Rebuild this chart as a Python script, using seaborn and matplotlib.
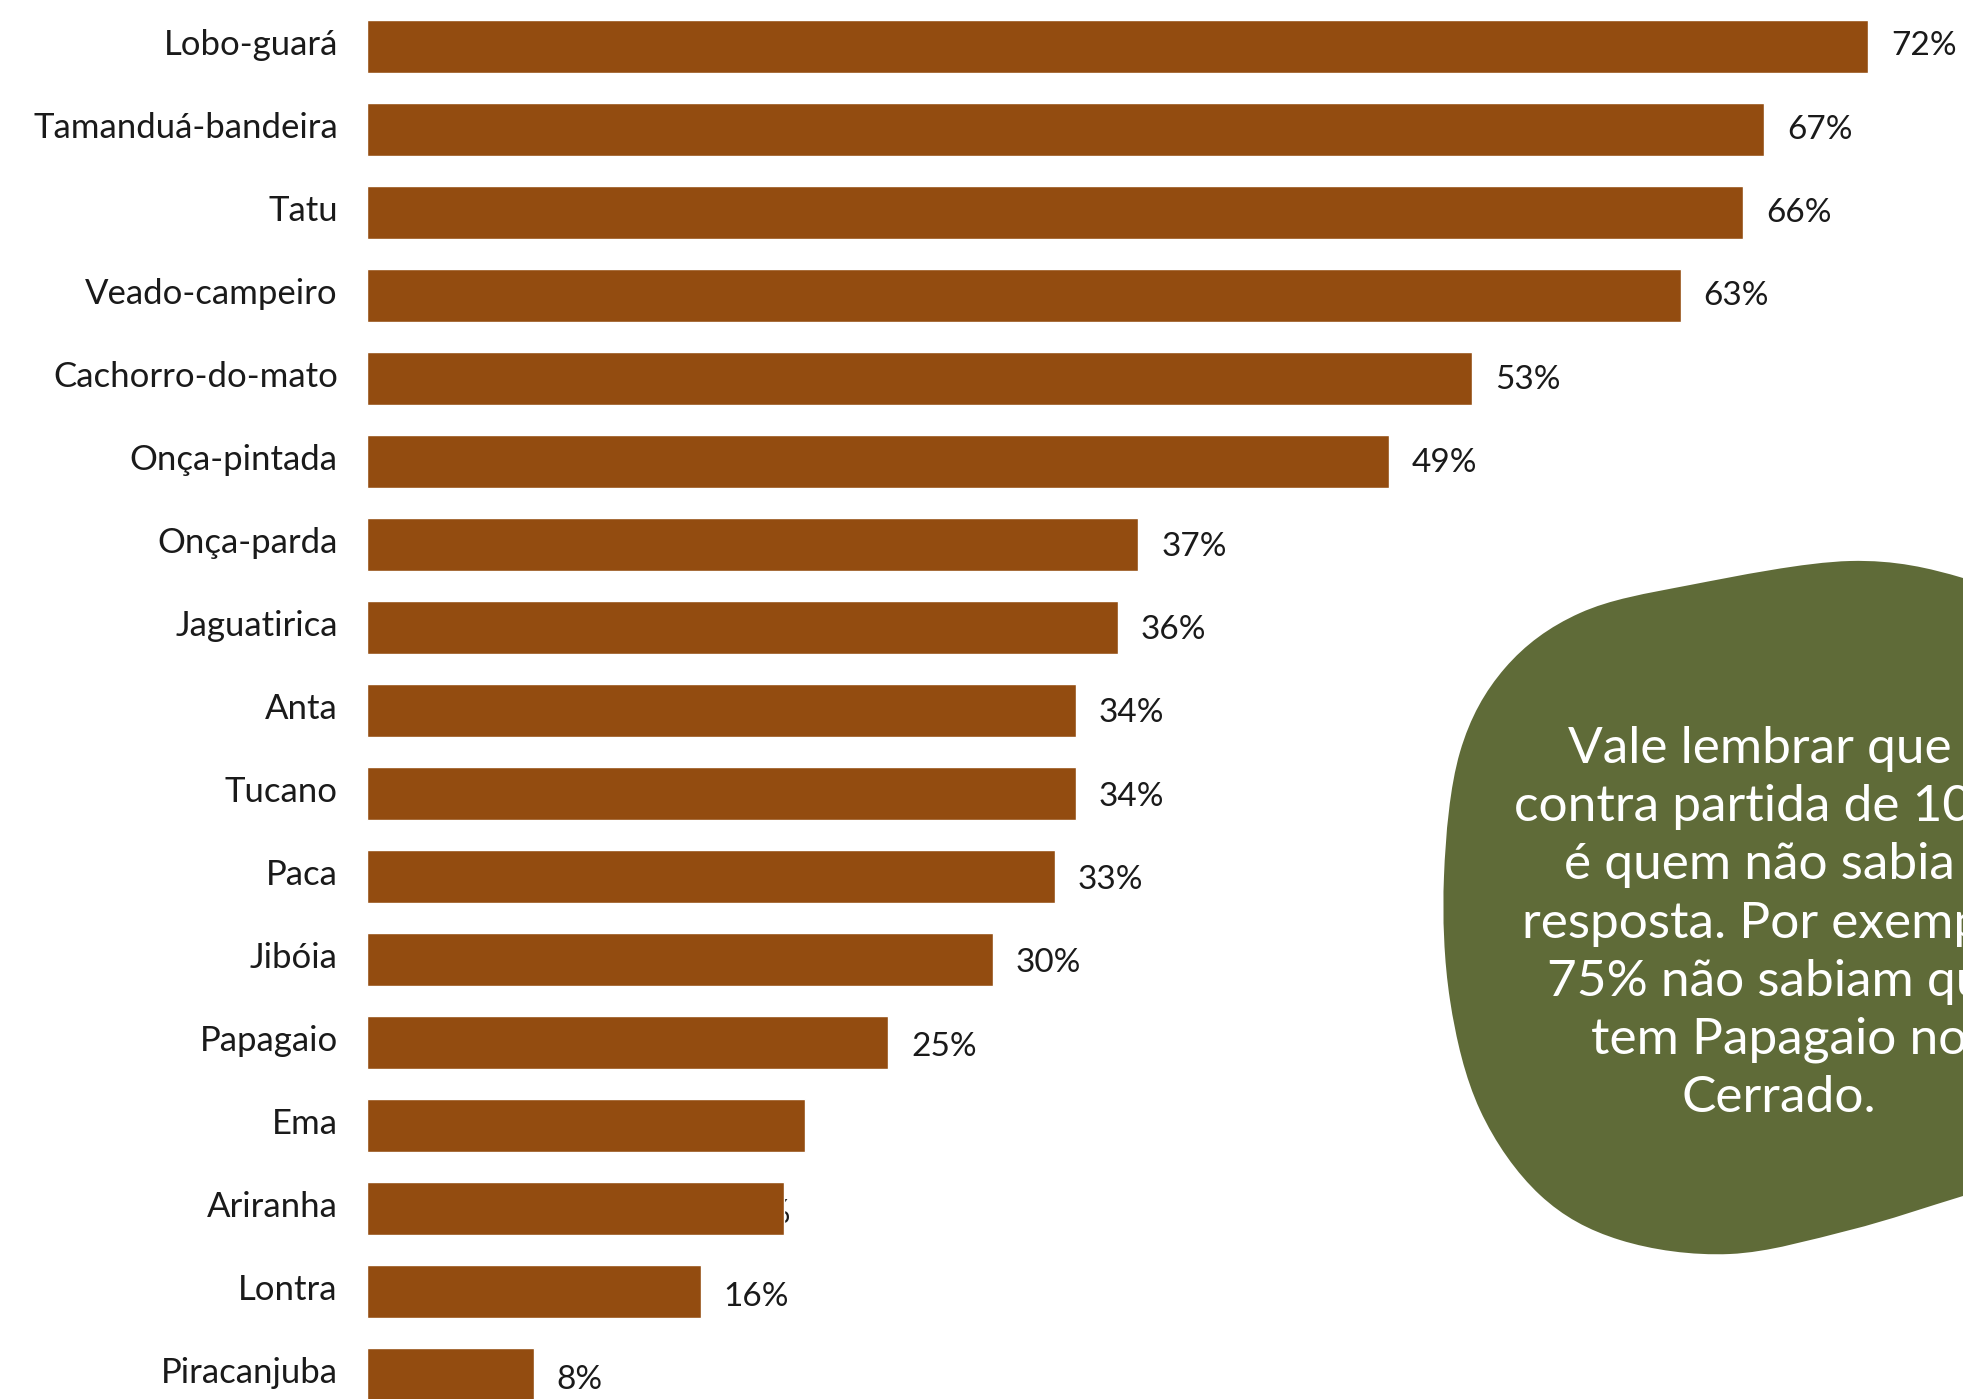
import numpy as np
import pandas as pd
import matplotlib
matplotlib.use("Agg")
import matplotlib.pyplot as plt
from matplotlib.patches import PathPatch
from matplotlib.path import Path
import matplotlib.transforms as mtransforms
import seaborn as sns

# ---- data ----
animals = ["Lobo-guará", "Tamanduá-bandeira", "Tatu", "Veado-campeiro",
           "Cachorro-do-mato", "Onça-pintada", "Onça-parda", "Jaguatirica",
           "Anta", "Tucano", "Paca", "Jibóia", "Papagaio", "Ema",
           "Ariranha", "Lontra", "Piracanjuba"]
percent = [72, 67, 66, 63, 53, 49, 37, 36, 34, 34, 33, 30, 25, 21, 20, 16, 8]
value_labels = ["72%", "67%", "66%", "63%", "53%", "49%", "37%", "36%",
                "34%", "34%", "33%", "30%", "25%", "", "20%", "16%", "8%"]
note_lines = ["Vale lembrar que a", "contra partida de 100%", "é quem não sabia a",
              "resposta. Por exemplo,", "75% não sabiam que", "tem Papagaio no",
              "Cerrado."]

BAR = "#934C10"
GREEN = "#5F6B38"

sns.set_theme(style="white")
plt.rcParams["font.family"] = ["Lato", "DejaVu Sans"]

W, H = 1963, 1399
fig = plt.figure(figsize=(W / 100, H / 100), dpi=100)
fig.patch.set_facecolor("white")

left_px = 367
ax = fig.add_axes([left_px / W, 0, 1 - left_px / W, 1])
ax.set_facecolor("none")

df = pd.DataFrame({"animal": animals, "pct": percent})
sns.barplot(data=df, y="animal", x="pct", orient="h", color=BAR,
            saturation=1, width=0.634, ax=ax, zorder=3)

px_per_pct = 20.85
ax.set_xlim(0, (W - left_px) / px_per_pct)
step = 83.0
top_center = 46.3
ax.set_ylim((H - top_center) / step, -top_center / step)

for s in ax.spines.values():
    s.set_visible(False)
ax.set_xticks([])
ax.set_xlabel("")
ax.set_ylabel("")
ax.tick_params(axis="y", length=0, pad=21, labelsize=25, labelcolor="#1a1a1a")
offset_up = mtransforms.ScaledTranslation(0, 1 / 100, fig.dpi_scale_trans)
for lbl in ax.get_yticklabels():
    lbl.set_verticalalignment("center")
    lbl.set_transform(lbl.get_transform() + offset_up)

# value labels
for i, (v, t) in enumerate(zip(percent, value_labels)):
    if not t:
        continue
    if t == "20%":
        # this label sits behind its bar in the original
        tr = ax.transData + mtransforms.ScaledTranslation(7 / 100, -6 / 100, fig.dpi_scale_trans)
        ax.text(v, i, t, ha="right", va="center", fontsize=24, color="#1a1a1a",
                transform=tr, zorder=1)
    else:
        dy = -(i / 16) * 6 / 100
        tr = ax.transData + mtransforms.ScaledTranslation(23 / 100, dy, fig.dpi_scale_trans)
        ax.text(v, i, t, ha="left", va="center", fontsize=24, color="#1a1a1a",
                transform=tr, zorder=4)

# ---- green blob (decorative shape) ----
pts_px = np.array([
    (1444, 876), (1460, 752), (1505, 668), (1580, 613), (1690, 585),
    (1850, 561), (1963, 578), (2050, 620), (2100, 900), (2050, 1170),
    (1963, 1196), (1850, 1230), (1730, 1254), (1620, 1240), (1540, 1195),
    (1480, 1110), (1450, 1000)], dtype=float)
n = len(pts_px)
verts = [pts_px[0]]
codes = [Path.MOVETO]
for k in range(n):
    p0 = pts_px[(k - 1) % n]
    p1 = pts_px[k]
    p2 = pts_px[(k + 1) % n]
    p3 = pts_px[(k + 2) % n]
    c1 = p1 + (p2 - p0) / 6
    c2 = p2 - (p3 - p1) / 6
    verts += [c1, c2, p2]
    codes += [Path.CURVE4] * 3
verts = np.array(verts)
verts_fig = np.column_stack([verts[:, 0] / W, 1 - verts[:, 1] / H])
blob = PathPatch(Path(verts_fig, codes), transform=fig.transFigure,
                 facecolor=GREEN, edgecolor="none", zorder=0)
fig.patches.append(blob)

cx = 1779 / W
first_y = 749
spacing = 58.2
for j, line in enumerate(note_lines):
    y = 1 - (first_y + j * spacing) / H
    fig.text(cx, y, line, ha="center", va="center", color="white",
             fontsize=37, fontweight="normal", zorder=5)

fig.savefig("out.png", dpi=100)
